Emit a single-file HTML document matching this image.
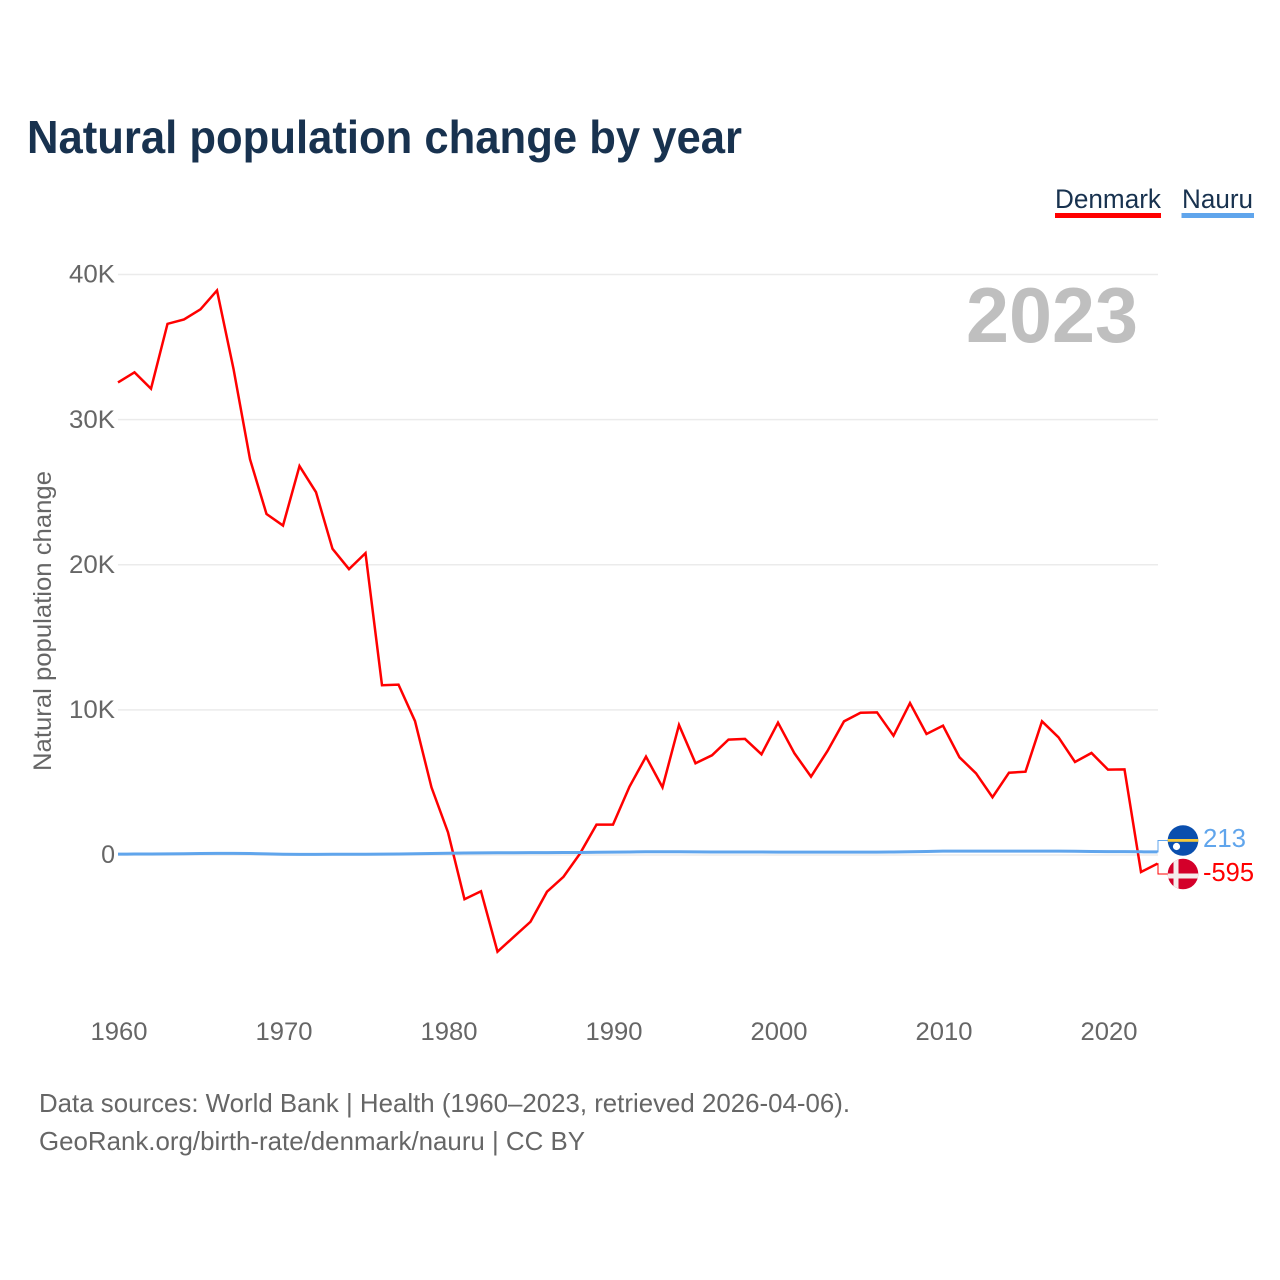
<!DOCTYPE html>
<html lang="en">
<head>
<meta charset="utf-8">
<title>Natural population change by year</title>
<style>
  html, body { margin: 0; padding: 0; background: #ffffff; }
  svg { display: block; font-family: "Liberation Sans", sans-serif; }
</style>
</head>
<body>
<svg id="chart" xmlns="http://www.w3.org/2000/svg" width="1280" height="1280" viewBox="0 0 1280 1280">
  <defs>
    <clipPath id="nauru-clip"><circle cx="1183" cy="840.5" r="15.3"/></clipPath>
    <clipPath id="denmark-clip"><circle cx="1183" cy="874" r="15.3"/></clipPath>
  </defs>
  <rect x="0" y="0" width="1280" height="1280" fill="#ffffff"/>
  <text x="27" y="153" font-size="46" font-weight="700" fill="#18324f" textLength="715" lengthAdjust="spacingAndGlyphs">Natural population change by year</text>

  <g>
    <g>
      <text x="1055" y="208" font-size="27" fill="#18324f" textLength="106" lengthAdjust="spacingAndGlyphs">Denmark</text>
      <rect x="1055" y="213" width="106" height="5" fill="#ff0000"/>
    </g>
    <g>
      <text x="1182" y="208" font-size="27" fill="#18324f" textLength="71" lengthAdjust="spacingAndGlyphs">Nauru</text>
      <rect x="1181.5" y="213" width="72.5" height="5" fill="#60a5ec"/>
    </g>
  </g>

  <g id="grid"></g>
  <g id="y-ticks"></g>
  <g id="x-ticks"></g>

  <text transform="translate(51 771) rotate(-90)" font-size="25" fill="#666666" textLength="300" lengthAdjust="spacingAndGlyphs">Natural population change</text>
  <text x="966" y="342" font-size="78" font-weight="700" fill="#bfbfbf" textLength="172" lengthAdjust="spacingAndGlyphs">2023</text>

  <g id="series"></g>
  <g id="end-labels"></g>

  <text x="39" y="1112" font-size="26" fill="#666666" textLength="811" lengthAdjust="spacingAndGlyphs">Data sources: World Bank | Health (1960–2023, retrieved 2026-04-06).</text>
  <text x="39" y="1150" font-size="26" fill="#666666" textLength="546" lengthAdjust="spacingAndGlyphs">GeoRank.org/birth-rate/denmark/nauru | CC BY</text>
</svg>

<script>
const years = [1960,1961,1962,1963,1964,1965,1966,1967,1968,1969,1970,1971,1972,1973,1974,1975,1976,1977,1978,1979,1980,1981,1982,1983,1984,1985,1986,1987,1988,1989,1990,1991,1992,1993,1994,1995,1996,1997,1998,1999,2000,2001,2002,2003,2004,2005,2006,2007,2008,2009,2010,2011,2012,2013,2014,2015,2016,2017,2018,2019,2020,2021,2022,2023];
const denmarkValues = [32560,33260,32130,36600,36900,37600,38900,33500,27270,23500,22700,26800,25000,21100,19700,20800,11700,11740,9230,4660,1560,-3050,-2500,-6660,-5630,-4600,-2530,-1500,100,2090,2090,4710,6780,4660,8960,6320,6870,7950,8000,6940,9120,7000,5400,7170,9210,9800,9830,8220,10470,8340,8910,6730,5630,3980,5670,5740,9210,8110,6410,7030,5880,5900,-1170,-595];
const nauruValues = [60,65,70,80,90,100,110,110,105,80,50,45,45,50,55,55,60,70,85,105,125,140,150,155,155,160,165,170,175,190,200,210,220,225,225,215,210,210,210,210,200,195,195,195,195,195,200,210,225,245,265,270,270,270,270,270,270,265,255,245,235,230,220,213];
const yTickValues = [0,10000,20000,30000,40000];
const yTickLabels = ["0","10K","20K","30K","40K"];
const xTickYears = [1960,1970,1980,1990,2000,2010,2020];

const SVG_NS = "http://www.w3.org/2000/svg";
const PLOT_LEFT = 118;
const PLOT_RIGHT = 1157.5;
const Y_ZERO = 855;
const Y_TOP = 274.5;
const DENMARK_COLOR = "#ff0000";
const NAURU_COLOR = "#60a5ec";

function xScale(year) {
  return PLOT_LEFT + (year - years[0]) * (PLOT_RIGHT - PLOT_LEFT) / (years[years.length - 1] - years[0]);
}
function yScale(value) {
  return Y_ZERO - value * (Y_ZERO - Y_TOP) / 40000;
}
function make(tag, attrs, parent, content) {
  const el = document.createElementNS(SVG_NS, tag);
  Object.keys(attrs).forEach(function (k) { el.setAttribute(k, attrs[k]); });
  if (content !== undefined) el.textContent = content;
  parent.appendChild(el);
  return el;
}
function linePoints(values) {
  return values.map(function (v, i) {
    return xScale(years[i]).toFixed(2) + "," + yScale(v).toFixed(2);
  }).join(" ");
}

const grid = document.getElementById("grid");
const yTicks = document.getElementById("y-ticks");
yTickValues.forEach(function (v, i) {
  const line = make("line", { x1: PLOT_LEFT, x2: PLOT_RIGHT + 0.5, y1: yScale(v), y2: yScale(v), stroke: "#ebebeb", "stroke-width": 1.5 }, grid);
  
  
  const attrs = { x: 115, y: yScale(v) + 8.2, "text-anchor": "end", "font-size": 25, fill: "#666666" };
  if (yTickLabels[i].length > 1) { attrs.textLength = 46; attrs.lengthAdjust = "spacingAndGlyphs"; }
  const label = make("text", attrs, yTicks, yTickLabels[i]);
  
  
});

const xTicks = document.getElementById("x-ticks");
xTickYears.forEach(function (yr) {
  const label = make("text", { x: xScale(yr) + 1, y: 1040, "text-anchor": "middle", "font-size": 25, fill: "#666666", textLength: 57, lengthAdjust: "spacingAndGlyphs" }, xTicks, String(yr));
  
  
});

const series = document.getElementById("series");
const denmarkLine = make("polyline", { points: linePoints(denmarkValues), fill: "none", stroke: DENMARK_COLOR, "stroke-width": 2.5, "stroke-linejoin": "miter" }, series);


const nauruLine = make("polyline", { points: linePoints(nauruValues), fill: "none", stroke: NAURU_COLOR, "stroke-width": 3, "stroke-linejoin": "miter" }, series);



const endLabels = document.getElementById("end-labels");
const lastDenmark = denmarkValues[denmarkValues.length - 1];
const lastNauru = nauruValues[nauruValues.length - 1];

const nauruConnector = make("polyline", { points: PLOT_RIGHT + "," + yScale(lastNauru) + " 1158," + yScale(lastNauru) + " 1158,840.5 1168,840.5", fill: "none", stroke: NAURU_COLOR, "stroke-width": 1 }, endLabels);


const denmarkConnector = make("polyline", { points: PLOT_RIGHT + "," + yScale(lastDenmark) + " 1158," + yScale(lastDenmark) + " 1158,874 1168,874", fill: "none", stroke: DENMARK_COLOR, "stroke-width": 1 }, endLabels);



const nauruFlag = make("g", { "clip-path": "url(#nauru-clip)" }, endLabels);


make("rect", { x: 1167, y: 825, width: 32, height: 32, fill: "#0a4fae" }, nauruFlag);
make("rect", { x: 1167, y: 839, width: 32, height: 2.8, fill: "#f5c93a" }, nauruFlag);
make("circle", { cx: 1176.5, cy: 846.5, r: 3.6, fill: "#ffffff" }, nauruFlag);

const denmarkFlag = make("g", { "clip-path": "url(#denmark-clip)" }, endLabels);


make("rect", { x: 1167, y: 858, width: 32, height: 32, fill: "#d4002a" }, denmarkFlag);
make("rect", { x: 1173.5, y: 858, width: 5, height: 32, fill: "#f5ecec" }, denmarkFlag);
make("rect", { x: 1167, y: 873.5, width: 32, height: 5, fill: "#f5ecec" }, denmarkFlag);

const nauruValueLabel = make("text", { x: 1203, y: 847, "font-size": 26, fill: NAURU_COLOR, textLength: 43, lengthAdjust: "spacingAndGlyphs" }, endLabels, String(lastNauru));


const denmarkValueLabel = make("text", { x: 1203, y: 881, "font-size": 26, fill: DENMARK_COLOR, textLength: 51, lengthAdjust: "spacingAndGlyphs" }, endLabels, String(lastDenmark));


</script>
</body>
</html>
